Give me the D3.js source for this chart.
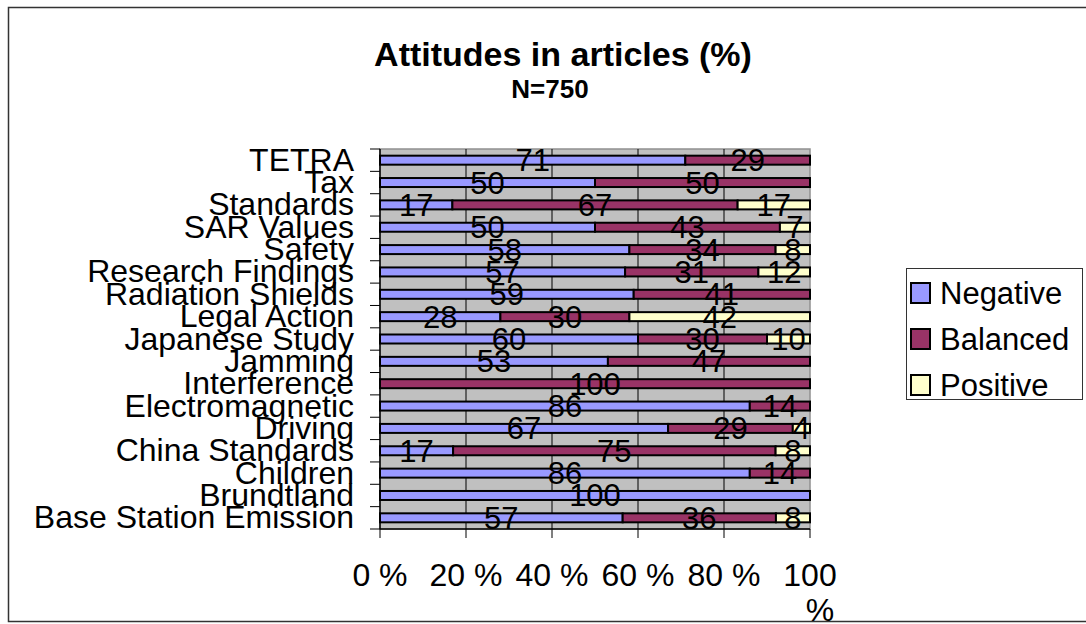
<!DOCTYPE html>
<html>
<head>
<meta charset="utf-8">
<script src="https://cdn.jsdelivr.net/npm/d3@7"></script>
<style>
  body { margin: 0; background: #fff; }
  svg { display: block; font-family: "Liberation Sans", Arial, sans-serif; }
</style>
</head>
<body>
<div id="chart"></div>
<script>
const width = 1086;
const height = 624;

// categories from top to bottom
const categories = [
  "TETRA", "Tax", "Standards", "SAR Values", "Safety", "Research Findings",
  "Radiation Shields", "Legal Action", "Japanese Study", "Jamming",
  "Interference", "Electromagnetic", "Driving", "China Standards",
  "Children", "Brundtland", "Base Station Emission"
];
const negative = [71, 50, 17, 50, 58, 57, 59, 28, 60, 53, 0, 86, 67, 17, 86, 100, 57];
const balanced = [29, 50, 67, 43, 34, 31, 41, 30, 30, 47, 100, 14, 29, 75, 14, 0, 36];
const positive = [0, 0, 17, 7, 8, 12, 0, 42, 10, 0, 0, 0, 4, 8, 0, 0, 8];

const seriesNames = ["Negative", "Balanced", "Positive"];
const seriesColors = ["#9999ff", "#993366", "#ffffcc"];
const tickValues = [0, 0.2, 0.4, 0.6, 0.8, 1];

const rows = categories.map((c, i) => ({
  cat: c, Negative: negative[i], Balanced: balanced[i], Positive: positive[i]
}));

const plot = { left: 380, right: 810, top: 149, bottom: 529 };

const svg = d3.select("#chart").append("svg")
  .attr("width", width)
  .attr("height", height);

// outer frame
svg.append("rect")
  .attr("x", 8.5).attr("y", 7.5)
  .attr("width", 1100).attr("height", 614)
  .attr("fill", "#fff")
  .attr("stroke", "#333")
  .attr("stroke-width", 1.5);

// title
svg.append("text")
  .attr("x", 563).attr("y", 66)
  .attr("text-anchor", "middle")
  .attr("font-weight", "bold")
  .attr("font-size", 34)
  .text("Attitudes in articles (%)");
svg.append("text")
  .attr("x", 550).attr("y", 98)
  .attr("text-anchor", "middle")
  .attr("font-weight", "bold")
  .attr("font-size", 26)
  .text("N=750");

const x = d3.scaleLinear().domain([0, 1]).range([plot.left, plot.right]);
const y = d3.scaleBand().domain(categories).range([plot.top, plot.bottom]);

// plot background
svg.append("rect")
  .attr("x", plot.left).attr("y", plot.top)
  .attr("width", plot.right - plot.left)
  .attr("height", plot.bottom - plot.top)
  .attr("fill", "#c0c0c0")
  .attr("stroke", "#909090")
  .attr("stroke-width", 1.5);

// vertical gridlines
svg.append("g")
  .selectAll("line")
  .data(tickValues.slice(1, -1))
  .join("line")
  .attr("x1", d => x(d)).attr("x2", d => x(d))
  .attr("y1", plot.top).attr("y2", plot.bottom)
  .attr("stroke", "#000")
  .attr("stroke-width", 1);

// stacked, normalised to 100%
const stack = d3.stack()
  .keys(seriesNames)
  .offset(d3.stackOffsetExpand);
const layers = stack(rows);

const barH = 9;
const groups = svg.append("g")
  .selectAll("g")
  .data(layers)
  .join("g")
  .attr("fill", (d, i) => seriesColors[i]);

groups.selectAll("rect")
  .data(d => d.filter(s => s[1] - s[0] > 0))
  .join("rect")
  .attr("x", d => x(d[0]))
  .attr("y", d => y(d.data.cat) + y.bandwidth() / 2 - barH / 2)
  .attr("width", d => x(d[1]) - x(d[0]))
  .attr("height", barH)
  .attr("stroke", "#000")
  .attr("stroke-width", 2);

// data labels
layers.forEach((layer, li) => {
  svg.append("g")
    .selectAll("text")
    .data(layer.filter(s => s[1] - s[0] > 0))
    .join("text")
    .attr("x", d => x((d[0] + d[1]) / 2))
    .attr("y", d => y(d.data.cat) + y.bandwidth() / 2 + 11)
    .attr("text-anchor", "middle")
    .attr("font-size", 31)
    .attr("fill", "#000")
    .text(d => d.data[seriesNames[li]]);
});

// y axis
const yAxis = svg.append("g").attr("transform", `translate(${plot.left},0)`);
yAxis.append("line")
  .attr("x1", 0).attr("x2", 0)
  .attr("y1", plot.top).attr("y2", plot.bottom)
  .attr("stroke", "#000").attr("stroke-width", 1.5);
yAxis.selectAll("line.tick")
  .data(categories.concat([null]))
  .join("line")
  .attr("class", "tick")
  .attr("x1", -10).attr("x2", 0)
  .attr("y1", (d, i) => plot.top + i * y.step())
  .attr("y2", (d, i) => plot.top + i * y.step())
  .attr("stroke", "#000").attr("stroke-width", 1);
yAxis.selectAll("text")
  .data(categories)
  .join("text")
  .attr("x", -26)
  .attr("y", d => y(d) + y.bandwidth() / 2 + 10.5)
  .attr("text-anchor", "end")
  .attr("font-size", 32)
  .text(d => d);

// x axis
const xAxis = svg.append("g").attr("transform", `translate(0,${plot.bottom})`);
xAxis.append("line")
  .attr("x1", plot.left).attr("x2", plot.right)
  .attr("y1", 0).attr("y2", 0)
  .attr("stroke", "#000").attr("stroke-width", 1.5);
xAxis.selectAll("line.tick")
  .data(tickValues)
  .join("line")
  .attr("class", "tick")
  .attr("x1", d => x(d)).attr("x2", d => x(d))
  .attr("y1", 0).attr("y2", 9)
  .attr("stroke", "#000").attr("stroke-width", 1);
const fmt = d => Math.round(d * 100) + " %";
xAxis.selectAll("text")
  .data(tickValues)
  .join("text")
  .attr("text-anchor", "middle")
  .attr("font-size", 32)
  .each(function(d) {
    const t = d3.select(this);
    const label = fmt(d);
    if (d === 1) {
      t.append("tspan").attr("x", x(d)).attr("y", 57).text("100");
      t.append("tspan").attr("x", x(d) + 10).attr("y", 92).text("%");
    } else {
      t.append("tspan").attr("x", x(d)).attr("y", 57).text(label);
    }
  });

// legend
const legend = svg.append("g");
legend.append("rect")
  .attr("x", 906.5).attr("y", 268.5)
  .attr("width", 176).attr("height", 131)
  .attr("fill", "#fff")
  .attr("stroke", "#333")
  .attr("stroke-width", 1);
const items = legend.selectAll("g")
  .data(seriesNames)
  .join("g")
  .attr("transform", (d, i) => `translate(911,${283 + i * 46})`);
items.append("rect")
  .attr("width", 19).attr("height", 20)
  .attr("fill", (d, i) => seriesColors[i])
  .attr("stroke", "#000")
  .attr("stroke-width", 2);
items.append("text")
  .attr("x", 29).attr("y", 21)
  .attr("font-size", 31)
  .text(d => d);
</script>
</body>
</html>
